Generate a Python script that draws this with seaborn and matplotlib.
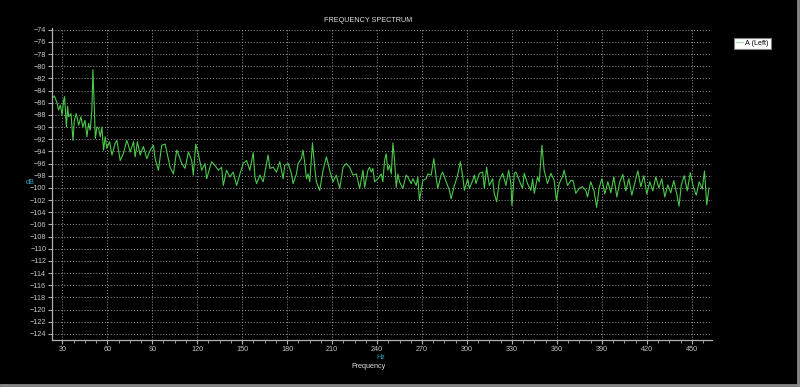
import numpy as np
import pandas as pd
import matplotlib
matplotlib.use("Agg")
import matplotlib.pyplot as plt
from matplotlib.lines import Line2D
from matplotlib.ticker import MultipleLocator
import seaborn as sns

# ---- data (frequency in Hz, level in dB) ----
freq_hz = [
    23.1, 24.7, 26.4, 27.5, 28.7, 29.8, 30.9, 31.5, 32.7, 33.5, 34.2, 35.8, 37.1, 38.0, 39.3,
    40.9, 42.4, 43.7, 45.1, 46.4, 47.5, 48.6, 49.7, 50.4, 51.3, 52.0, 53.1, 54.2, 55.3, 56.4,
    57.5, 58.6, 59.7, 61.5, 63.1, 65.3, 66.4, 67.5, 68.6, 70.8, 73.0, 74.1, 75.3, 77.5, 78.6,
    80.1, 81.9, 84.1, 86.4, 88.6, 90.8,
    91.9, 94.1, 96.3, 98.6, 101.9, 104.1, 106.3, 107.4, 109.7, 111.9, 114.1, 116.3, 117.4,
    119.0, 120.7, 123.0, 125.2, 126.3, 129.6, 131.8, 134.1, 136.3, 137.4, 139.6, 141.8, 144.0,
    146.3, 148.5, 150.7, 152.9, 155.1, 157.4, 158.5, 159.6,
    161.8, 164.0, 166.2, 167.3, 168.5, 170.7, 172.9, 175.1, 177.3, 178.4, 180.7, 182.9, 184.0,
    186.2, 187.3, 189.5, 190.6, 191.8, 192.9, 194.0, 195.1, 196.9, 198.4, 199.5, 201.7, 204.0,
    206.2, 208.4, 210.6, 212.8, 215.1, 217.3, 219.5, 221.7, 223.9, 226.2, 228.4, 230.6,
    231.7, 233.9, 235.0, 236.1, 237.2, 238.4, 240.6, 242.8, 243.9, 245.0, 246.1, 247.2, 248.3,
    249.5, 250.6, 251.7, 252.8, 253.9, 255.0, 257.2, 259.4, 260.5, 262.8, 263.9, 266.1, 267.2,
    268.3, 270.5, 272.8, 273.9, 276.1, 277.9, 279.4, 280.5, 282.7, 283.8, 286.1, 288.3, 289.4,
    291.6, 293.8, 295.6, 297.2, 298.3, 300.5,
    301.6, 303.8, 304.9, 306.0, 308.3, 310.5, 311.6, 313.1, 314.9, 317.1, 318.2, 319.8, 321.6,
    323.8, 326.0, 327.8, 329.3, 330.0, 331.6, 332.7, 334.9, 337.1, 338.2, 340.4, 342.7, 343.8,
    344.9, 347.1, 348.2, 350.0, 351.5, 353.7, 356.0, 358.2, 359.7, 361.5, 363.7, 364.8, 367.1,
    369.3, 370.8, 372.6, 374.8, 377.0, 379.3, 380.4,
    382.6, 384.8, 386.5, 388.2, 390.0, 392.0, 394.0, 396.0, 398.0, 400.0, 402.0, 404.0, 406.0,
    408.0, 410.0, 412.0, 414.0, 416.0, 418.0, 420.0, 422.0, 424.0, 426.0, 428.0, 430.0, 432.0,
    434.0, 436.0, 438.0, 440.0, 441.5, 443.0, 445.0, 447.0, 449.0, 451.0, 453.0, 455.0, 457.0,
    458.5, 460.0, 461.5,
]
level_db = [
    -85.3, -84.9, -86.0, -87.2, -86.4, -88.0, -85.6, -85.0, -90.0, -86.6, -88.3, -87.8, -92.2, -88.9, -87.8,
    -89.7, -88.3, -90.0, -88.9, -91.6, -89.4, -90.5, -87.2, -80.6, -86.6, -91.9, -90.0, -90.2, -91.6, -90.0,
    -93.8, -91.6, -93.5, -92.4, -94.6, -92.6, -92.2, -93.8, -95.5, -94.3, -92.2, -93.0, -94.1, -92.4, -94.9,
    -92.4, -94.6, -93.2, -95.2, -93.8, -93.0,
    -95.2, -97.1, -93.0, -92.8, -96.6, -97.7, -93.8, -94.4, -96.0, -96.8, -94.1, -95.5, -97.9,
    -92.8, -94.4, -97.1, -96.0, -98.5, -95.7, -96.3, -97.1, -96.6, -99.6, -97.1, -98.2, -97.4,
    -99.6, -97.7, -96.0, -95.5, -97.1, -94.2, -98.2, -99.3,
    -97.9, -99.0, -96.0, -94.6, -96.8, -96.6, -97.4, -95.7, -98.5, -96.3, -96.0, -97.7, -99.3,
    -97.7, -96.0, -95.2, -93.8, -96.0, -98.5, -97.7, -99.0, -92.6, -96.6, -99.0, -100.4, -97.1,
    -94.9, -97.1, -99.0, -97.9, -100.1, -96.6, -96.0, -96.6, -97.9, -97.7, -100.1, -97.1,
    -99.9, -97.1, -96.6, -97.4, -96.8, -99.0, -98.5, -97.7, -99.0, -95.5, -94.4, -97.1, -96.3,
    -97.7, -92.6, -95.5, -99.9, -97.7, -99.0, -100.1, -97.9, -98.2, -99.3, -98.5, -99.6, -98.2,
    -102.1, -98.8, -98.5, -97.7, -97.9, -95.2, -98.2, -100.1, -97.9, -97.4, -99.0, -100.4, -101.8,
    -99.6, -97.9, -95.7, -98.2, -100.4, -98.5,
    -100.1, -98.8, -97.9, -99.3, -97.6, -97.4, -100.1, -96.6, -99.6, -98.5, -100.9, -102.3, -98.8,
    -97.6, -99.6, -97.1, -99.3, -102.9, -97.6, -97.4, -98.8, -100.1, -97.6, -99.3, -100.4, -98.5,
    -100.9, -98.2, -99.0, -93.0, -97.1, -99.3, -97.6, -98.8, -102.1, -99.3, -98.2, -97.1, -99.6,
    -98.8, -98.8, -100.9, -100.1, -99.8, -100.4, -101.5,
    -99.0, -100.5, -103.2, -100.0, -98.5, -101.0, -99.0, -100.8, -98.2, -101.5, -99.0, -97.8, -100.5,
    -98.5, -101.2, -99.2, -97.2, -99.8, -98.0, -101.0, -99.0, -100.5, -98.2, -100.0, -98.5, -101.5,
    -99.5, -100.8, -98.8, -101.0, -103.0, -99.5, -98.0, -100.5, -97.5, -99.8, -101.2, -99.0, -100.2,
    -97.2, -102.8, -100.0,
]
series_name = "A (Left)"
title_text = "FREQUENCY SPECTRUM"
x_unit = "Hz"
x_label = "Frequency"
y_unit = "dB"

df = pd.DataFrame({"freq": freq_hz, "level": level_db, "series": series_name})

# ---- style ----
sns.set_style("dark")
plt.rcParams["font.family"] = ["Liberation Sans", "DejaVu Sans"]

BG = "#000000"
GRID = "#9a9a9a"
TXT = "#c8c8c8"
TEAL = "#2f9fbf"
GREEN = "#4cc84c"
FS = 5.2

fig = plt.figure(figsize=(8.0, 3.87), dpi=100, facecolor=BG)
ax = fig.add_axes([0.065, 0.1214, 0.825, 0.8066], facecolor=BG)

sns.lineplot(data=df, x="freq", y="level", hue="series", palette=[GREEN],
             linewidth=0.8, ax=ax, legend=False, estimator=None, sort=False)

ax.set_xlim(23.1, 463.5)
ax.set_ylim(-125.0, -73.7)
ax.set_xticks(np.arange(30, 451, 30))
ax.xaxis.set_minor_locator(MultipleLocator(7.5))
ax.set_yticks(np.arange(-124, -73, 2))

ax.grid(True, which="major", color=GRID, linestyle=(0, (1, 2)), linewidth=0.7)
ax.grid(False, which="minor")
for side in ("top", "right"):
    ax.spines[side].set_visible(False)
for side in ("left", "bottom"):
    ax.spines[side].set_visible(True)
    ax.spines[side].set_color("#b0b0b0")
    ax.spines[side].set_linewidth(0.9)

ax.tick_params(axis="both", which="major", direction="out", length=3, width=0.8,
               color="#b0b0b0", labelcolor=TXT, labelsize=FS, pad=1.2,
               bottom=True, left=True)
ax.tick_params(axis="x", which="minor", direction="out", length=2, width=0.6,
               color="#b0b0b0", bottom=True)
ax.tick_params(axis="x", which="major", pad=1.2)
ax.set_xlabel("")
ax.set_ylabel("")

# titles and labels
fig.text(368 / 800, 1 - 20 / 387, title_text, color="#e0e0e0", fontsize=FS,
         ha="center", va="center")
fig.text(381 / 800, 1 - 357.5 / 387, x_unit, color=TEAL, fontsize=FS,
         ha="center", va="center")
fig.text(368 / 800, 1 - 367 / 387, x_label, color="#e0e0e0", fontsize=FS,
         ha="center", va="center")
fig.text(30 / 800, 1 - 183 / 387, y_unit, color=TEAL, fontsize=FS,
         ha="center", va="center")

# legend
handle = Line2D([], [], color="#b8d8b8", linewidth=1.0)
leg = fig.legend([handle], [series_name], loc="upper left",
                 bbox_to_anchor=(734 / 800, 1 - 38 / 387), fontsize=FS,
                 frameon=True, fancybox=False, borderpad=0.25, handlelength=1.0,
                 handletextpad=0.3, borderaxespad=0.0)
leg.get_frame().set_facecolor("#ffffff")
leg.get_frame().set_alpha(1.0)
leg.get_frame().set_edgecolor("#808080")
leg.get_frame().set_linewidth(0.8)
for t in leg.get_texts():
    t.set_color("#000000")

# window frame edges
fig.add_artist(Line2D([0, 1], [0.004, 0.004], transform=fig.transFigure,
                      color="#8a8a8a", linewidth=2))
fig.add_artist(Line2D([0.997, 0.997], [0, 1], transform=fig.transFigure,
                      color="#8a8a8a", linewidth=2))

fig.savefig("out.png", dpi=100, facecolor=BG)
